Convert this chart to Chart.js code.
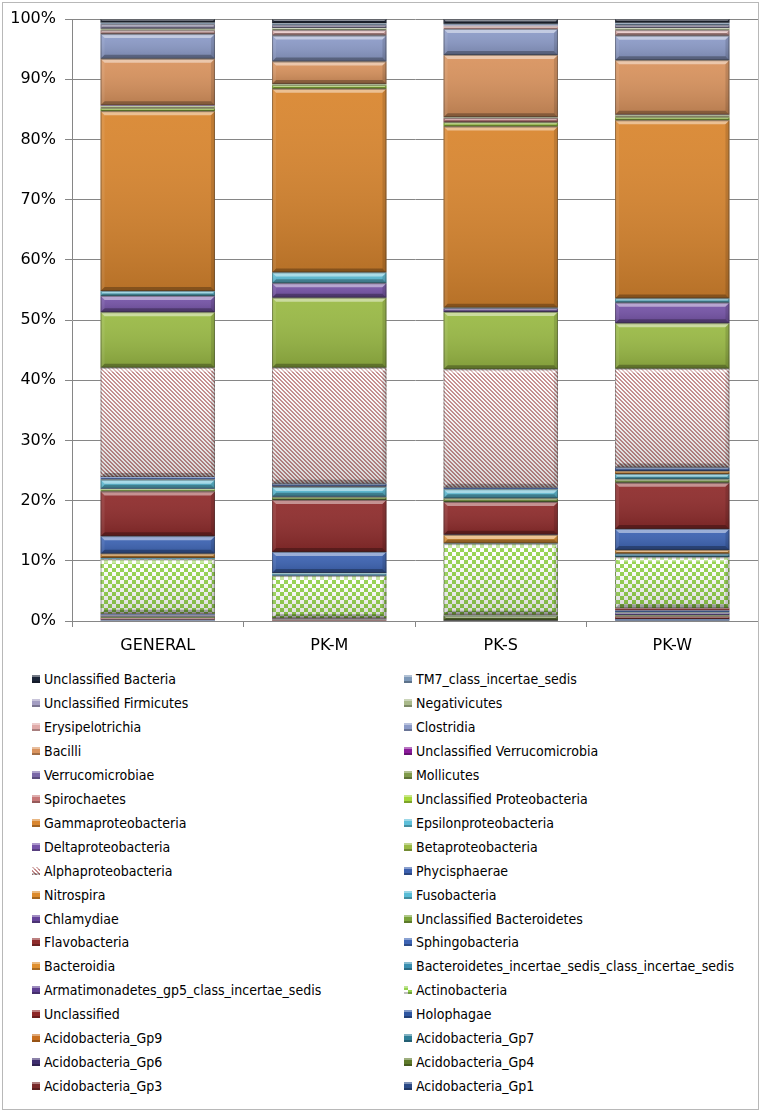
<!DOCTYPE html>
<html>
<head>
<meta charset="utf-8">
<script src="https://cdn.jsdelivr.net/npm/chart.js@4.4.1/dist/chart.umd.min.js"></script>
<style>
  html, body { margin: 0; padding: 0; background: #fff; }
  #wrap { position: relative; width: 762px; height: 1112px; overflow: hidden; }
  #chart { position: absolute; left: 0; top: 0; }
  #frame { position: absolute; left: 2px; top: 2px; width: 755px; height: 1106px; border: 1px solid #b8b8b8; pointer-events: none; }
  .item { position: absolute; height: 20px; line-height: 20px; font-family: "DejaVu Sans Condensed", "DejaVu Sans", sans-serif; font-stretch: condensed; font-size: 14px; color: #000; white-space: nowrap; }
  .item canvas { position: absolute; left: 0; top: 6px; }
  .item span { position: absolute; left: 12px; top: 0; }
</style>
</head>
<body>
<div id="wrap">
  <canvas id="chart" width="762" height="660"></canvas>
  <div id="legend"></div>
  <div id="frame"></div>
</div>
<script>
const categories = ["GENERAL", "PK-M", "PK-S", "PK-W"];

// series, bottom of the stack first
const seriesNames = [
  "Acidobacteria_Gp1", "Acidobacteria_Gp3", "Acidobacteria_Gp4", "Acidobacteria_Gp6",
  "Acidobacteria_Gp7", "Acidobacteria_Gp9", "Holophagae", "Unclassified",
  "Actinobacteria", "Armatimonadetes_gp5_class_incertae_sedis",
  "Bacteroidetes_incertae_sedis_class_incertae_sedis", "Bacteroidia", "Sphingobacteria",
  "Flavobacteria", "Unclassified Bacteroidetes", "Chlamydiae", "Fusobacteria", "Nitrospira",
  "Phycisphaerae", "Alphaproteobacteria", "Betaproteobacteria", "Deltaproteobacteria",
  "Epsilonproteobacteria", "Gammaproteobacteria", "Unclassified Proteobacteria", "Spirochaetes",
  "Mollicutes", "Verrucomicrobiae", "Unclassified Verrucomicrobia", "Bacilli", "Clostridia",
  "Erysipelotrichia", "Negativicutes", "Unclassified Firmicutes", "TM7_class_incertae_sedis",
  "Unclassified Bacteria"
];

// relative abundance (%) per sample, same order as seriesNames
const general = [0.2, 0.3, 0.2, 0.2, 0.05, 0.05, 0.1, 0.1, 9.0, 0.05, 0.2, 0.7, 2.9, 7.4, 0.4, 0.05, 1.5, 0.05, 0.4,
  18.1, 9.2, 2.7, 0.8, 29.8, 0.5, 0.05, 0.3, 0.1, 0.02, 7.7, 4.1, 0.6, 0.3, 0.7, 0.3, 0.6];
const pkM = [0.1, 0.1, 0.05, 0.05, 0.02, 0.02, 0.05, 0.05, 7.0, 0.05, 0.4, 0.05, 3.5, 8.6, 0.5, 0.05, 1.6, 0.05, 0.5,
  19.2, 11.6, 2.4, 1.8, 30.4, 0.6, 0.05, 0.1, 0.05, 0.02, 3.7, 4.3, 0.9, 0.35, 0.5, 0.3, 0.7];
const pkS = [0.05, 0.05, 0.8, 0.02, 0.02, 0.02, 0.02, 0.05, 11.7, 0.02, 0.1, 1.4, 0.05, 5.4, 0.6, 0.02, 1.5, 0.05, 0.2,
  19.6, 9.5, 0.6, 0.1, 30.0, 0.7, 0.7, 0.1, 0.05, 0.02, 10.3, 4.3, 0.4, 0.05, 0.2, 0.2, 0.8];
const pkW = [0.35, 0.4, 0.2, 0.35, 0.1, 0.1, 0.25, 0.35, 8.4, 0.05, 0.55, 0.6, 3.5, 7.6, 0.55, 0.05, 0.85, 0.5, 0.6,
  16.3, 7.5, 3.4, 0.7, 29.4, 0.5, 0.1, 0.25, 0.05, 0.02, 9.0, 4.05, 0.9, 0.35, 0.5, 0.4, 0.6];

const yTicks = [0, 10, 20, 30, 40, 50, 60, 70, 80, 90, 100];

const colors = [
  "#2b4a87", "#7a2a2a", "#5e7a2a", "#3f2e6e", "#2f7f98", "#c96f1e", "#2e56a0", "#8e2626",
  "#94d34c", "#5d3f91", "#3a8fb0", "#e0902f", "#3d64b4", "#8f2c2c", "#7ba33a", "#65449a",
  "#58bcd6", "#dd8a2a", "#3b5fad", "#c48b8b", "#9aba45", "#7654a8", "#5dbfd9", "#d9862f",
  "#a6d83a", "#c87878", "#7f9a4a", "#7a68a8", "#8a1a9a", "#d9935e", "#8c9bc8", "#e0aaa8",
  "#a9b98a", "#a39dc2", "#7d98b8", "#1c2538"
];
const stripeSeries = "Alphaproteobacteria";
const checkerSeries = "Actinobacteria";

// 100% stacked: each sample scaled to its own total
const samples = [general, pkM, pkS, pkW];
const totals = samples.map(s => s.reduce((a, b) => a + b, 0));

const makeFill = (ctx, i) => {
  const name = seriesNames[i];
  if (name !== stripeSeries && name !== checkerSeries) return colors[i];
  const c = document.createElement("canvas");
  const g = c.getContext("2d");
  if (name === stripeSeries) {
    c.width = c.height = 4;
    g.fillStyle = "#fff";
    g.fillRect(0, 0, 4, 4);
    g.fillStyle = colors[i];
    for (let k = 0; k < 4; k++) {
      g.fillRect(k, k, 1, 1);
      g.fillRect((k + 1) % 4, k, 1, 1);
    }
  } else {
    c.width = c.height = 8;
    g.fillStyle = "#fff";
    g.fillRect(0, 0, 8, 8);
    g.fillStyle = colors[i];
    g.fillRect(0, 0, 4, 4);
    g.fillRect(4, 4, 4, 4);
  }
  return ctx.createPattern(c, "repeat");
};

const poly = (ctx, pts, fill) => {
  ctx.beginPath();
  ctx.moveTo(pts[0][0], pts[0][1]);
  pts.slice(1).forEach(p => ctx.lineTo(p[0], p[1]));
  ctx.closePath();
  ctx.fillStyle = fill;
  ctx.fill();
};

// Excel-like bevel on every bar segment
const bevel = {
  id: "bevel",
  afterDatasetsDraw(chart) {
    const ctx = chart.ctx;
    chart.data.datasets.forEach((ds, i) => {
      chart.getDatasetMeta(i).data.forEach(bar => {
        const { x, y, base, width } = bar.getProps(["x", "y", "base", "width"], true);
        const l = x - width / 2, r = x + width / 2;
        const t = Math.min(y, base), b = Math.max(y, base);
        const h = b - t;
        if (h < 0.3) return;
        const d = Math.min(4, h / 2);
        ctx.save();
        const g = ctx.createLinearGradient(0, t, 0, b);
        g.addColorStop(0, "rgba(255,255,255,0.06)");
        g.addColorStop(1, "rgba(0,0,0,0.16)");
        ctx.fillStyle = g;
        ctx.fillRect(l, t, width, h);
        poly(ctx, [[l, t], [r, t], [r - d, t + d], [l + d, t + d]], "rgba(255,255,255,0.45)");
        poly(ctx, [[l, b], [r, b], [r - d, b - d], [l + d, b - d]], "rgba(0,0,0,0.28)");
        poly(ctx, [[l, t], [l + d, t + d], [l + d, b - d], [l, b]], "rgba(255,255,255,0.08)");
        poly(ctx, [[r, t], [r - d, t + d], [r - d, b - d], [r, b]], "rgba(0,0,0,0.12)");
        if (h >= 3) {
          ctx.strokeStyle = "rgba(40,40,40,0.4)";
          ctx.lineWidth = 1;
          ctx.strokeRect(l + 0.5, t + 0.5, width - 1, h - 1);
        }
        ctx.restore();
      });
    });
  }
};

const ctx = document.getElementById("chart").getContext("2d");

const datasets = seriesNames.map((name, i) => ({
  label: name,
  data: samples.map((s, k) => (s[i] / totals[k]) * 100),
  backgroundColor: makeFill(ctx, i),
  borderWidth: 0,
  barPercentage: 0.667,
  categoryPercentage: 1
}));

const axisFont = { family: "'DejaVu Sans', sans-serif", size: 16 };

const myChart = new Chart(ctx, {
  type: "bar",
  data: { labels: categories, datasets: datasets },
  options: {
    responsive: false,
    animation: false,
    layout: { padding: { top: 19, right: 4, left: 0, bottom: 0 } },
    scales: {
      x: {
        stacked: true,
        grid: { offset: true, drawOnChartArea: false, color: "#868686", tickLength: 6 },
        border: { color: "#868686" },
        ticks: { color: "#000", font: axisFont, padding: 9 },
        afterFit: (scale) => { scale.height = 39; }
      },
      y: {
        stacked: true,
        min: 0,
        max: 100,
        afterBuildTicks: (scale) => { scale.ticks = yTicks.map(v => ({ value: v })); },
        grid: { color: "#868686", tickLength: 7 },
        border: { color: "#868686" },
        ticks: { color: "#000", font: axisFont, padding: 9, callback: (v) => v + "%" },
        afterFit: (scale) => { scale.width = 72; }
      }
    },
    plugins: {
      legend: { display: false },
      tooltip: { enabled: false }
    }
  },
  plugins: [bevel]
});

// two-column legend, listed top of stack first
const legend = document.getElementById("legend");
const order = seriesNames.map((n, i) => i).reverse();
order.forEach((idx, k) => {
  const row = Math.floor(k / 2), col = k % 2;
  const item = document.createElement("div");
  item.className = "item";
  item.style.left = (col === 0 ? 32 : 404) + "px";
  item.style.top = (669 + row * 23.95) + "px";
  const m = document.createElement("canvas");
  m.width = 8; m.height = 8;
  const mc = m.getContext("2d");
  mc.fillStyle = makeFill(mc, idx);
  mc.fillRect(0, 0, 8, 8);
  mc.fillStyle = "rgba(255,255,255,0.4)";
  mc.fillRect(0, 0, 8, 2);
  mc.fillStyle = "rgba(0,0,0,0.25)";
  mc.fillRect(0, 6, 8, 2);
  const s = document.createElement("span");
  s.textContent = seriesNames[idx];
  item.appendChild(m);
  item.appendChild(s);
  legend.appendChild(item);
});
</script>
</body>
</html>
